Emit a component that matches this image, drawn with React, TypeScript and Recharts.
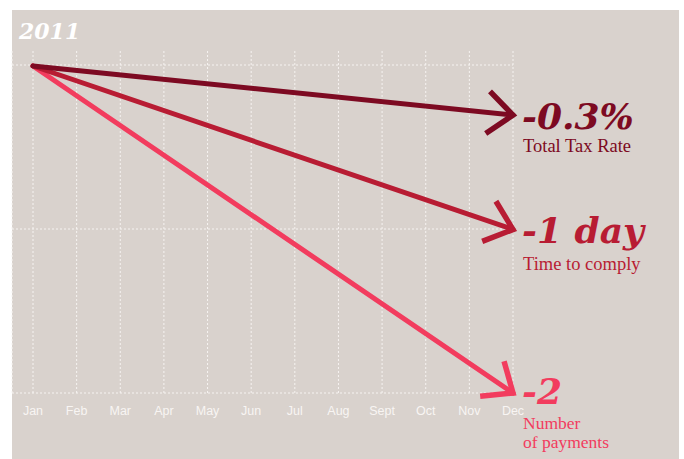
import React from 'react';
import { LineChart, Line, XAxis, YAxis, CartesianGrid } from 'recharts';

const months = ['Jan', 'Feb', 'Mar', 'Apr', 'May', 'Jun', 'Jul', 'Aug', 'Sept', 'Oct', 'Nov', 'Dec'];
const totalTaxRate: (number | null)[] = [0, null, null, null, null, null, null, null, null, null, null, -0.3];
const timeToComply: (number | null)[] = [0, null, null, null, null, null, null, null, null, null, null, -1];
const numberOfPayments: (number | null)[] = [0, null, null, null, null, null, null, null, null, null, null, -2];
const yTicks = [-2, -1, 0];
const yDomain: [number, number] = [-2, 0];
const yPadTop = 14;

const data = months.map((m, i) => ({
  month: m,
  tax: totalTaxRate[i],
  time: timeToComply[i],
  payments: numberOfPayments[i],
}));

const DARK = '#7d0a22';
const MID = '#b81c33';
const PINK = '#f23c5e';

const firstPts: Record<string, { x: number; y: number }> = {};

const makeArrow = (color: string, key: string) => (props: any) => {
  const { cx, cy, index, points } = props;
  if (cx == null || cy == null) return <g key={`e-${key}-${index}`} />;
  if (index === 0) {
    firstPts[key] = { x: cx, y: cy };
    return <g key={`s-${key}-${index}`} />;
  }
  let start = firstPts[key];
  if (Array.isArray(points)) {
    const valid = points.filter((p: any) => p && p.y != null && p.x != null);
    if (valid.length > 1) start = { x: valid[0].x, y: valid[0].y };
  }
  if (!start) return <g key={`n-${key}-${index}`} />;
  const ang = Math.atan2(cy - start.y, cx - start.x) + Math.PI;
  const len = 33;
  const spread = (40 * Math.PI) / 180;
  const a1x = cx + len * Math.cos(ang + spread);
  const a1y = cy + len * Math.sin(ang + spread);
  const a2x = cx + len * Math.cos(ang - spread);
  const a2y = cy + len * Math.sin(ang - spread);
  return (
    <path
      key={`a-${key}-${index}`}
      d={`M${a1x},${a1y} L${cx},${cy} L${a2x},${a2y}`}
      fill="none"
      stroke={color}
      strokeWidth={5.5}
      strokeLinejoin="miter"
      strokeLinecap="butt"
    />
  );
};

const hGen = (args: any) => {
  const yAxis = args?.yAxis;
  if (yAxis && typeof yAxis.scale === 'function') {
    return yTicks.map((t) => yAxis.scale(t));
  }
  const off = args?.offset || { top: 52, height: 341 };
  const usable = off.height - yPadTop;
  return yTicks.map((t) => off.top + yPadTop + ((yDomain[1] - t) / (yDomain[1] - yDomain[0])) * usable);
};

const bigFont = { fontFamily: '"DejaVu Serif", serif', fontWeight: 700, fontStyle: 'italic', fontSize: 36 } as const;
const smallFont = { fontFamily: '"Liberation Serif", serif', fontSize: 18.5 } as const;
const smallFont2 = { fontFamily: '"Liberation Serif", serif', fontSize: 17.5 } as const;

export default function App() {
  return (
    <div style={{ position: 'absolute', left: 0, top: 0, width: 684, height: 459, background: '#ffffff', overflow: 'hidden' }}>
      <div style={{ position: 'absolute', left: 12, top: 10, width: 667, height: 449, background: '#d9d2cd' }} />
      <div style={{ position: 'absolute', left: 0, top: 0 }}>
        <LineChart width={684} height={459} data={data} margin={{ top: 51, right: 171, left: 12, bottom: 36 }}>
          <CartesianGrid stroke="#f6f3f1" strokeDasharray="2 2" strokeWidth={1} horizontalCoordinatesGenerator={hGen} />
          <XAxis
            dataKey="month"
            scale="point"
            padding={{ left: 21, right: 0 }}
            axisLine={false}
            tickLine={false}
            tickSize={0}
            tickMargin={13}
            height={30}
            interval={0}
            tick={{ fill: '#f8f5f3', fontSize: 12.5, fontFamily: '"Liberation Sans", Arial, sans-serif' }}
          />
          <YAxis hide domain={yDomain} ticks={yTicks} padding={{ top: yPadTop + 1, bottom: 0 }} />
          <Line
            type="linear"
            dataKey="payments"
            stroke={PINK}
            strokeWidth={5}
            strokeLinecap="round"
            connectNulls
            dot={makeArrow(PINK, 'payments')}
            activeDot={false}
            isAnimationActive={false}
          />
          <Line
            type="linear"
            dataKey="time"
            stroke={MID}
            strokeWidth={5}
            strokeLinecap="round"
            connectNulls
            dot={makeArrow(MID, 'time')}
            activeDot={false}
            isAnimationActive={false}
          />
          <Line
            type="linear"
            dataKey="tax"
            stroke={DARK}
            strokeWidth={5}
            strokeLinecap="round"
            connectNulls
            dot={makeArrow(DARK, 'tax')}
            activeDot={false}
            isAnimationActive={false}
          />
        </LineChart>
      </div>
      <svg width={684} height={459} style={{ position: 'absolute', left: 0, top: 0, pointerEvents: 'none' }}>
        <text x={19} y={39} fill="#ffffff" style={{ fontFamily: '"DejaVu Serif", serif', fontWeight: 700, fontStyle: 'italic', fontSize: 22 }}>2011</text>
        <text x={522} y={129} fill={DARK} style={bigFont}>-0.3%</text>
        <text x={523} y={152} fill={DARK} style={smallFont}>Total Tax Rate</text>
        <text x={522} y={243} fill={MID} style={bigFont}>-1 day</text>
        <text x={523} y={270} fill={MID} style={smallFont}>Time to comply</text>
        <text x={522} y={404} fill={PINK} style={bigFont}>-2</text>
        <text x={523} y={428.5} fill={PINK} style={smallFont2}>Number</text>
        <text x={523} y={448} fill={PINK} style={smallFont2}>of payments</text>
      </svg>
    </div>
  );
}
